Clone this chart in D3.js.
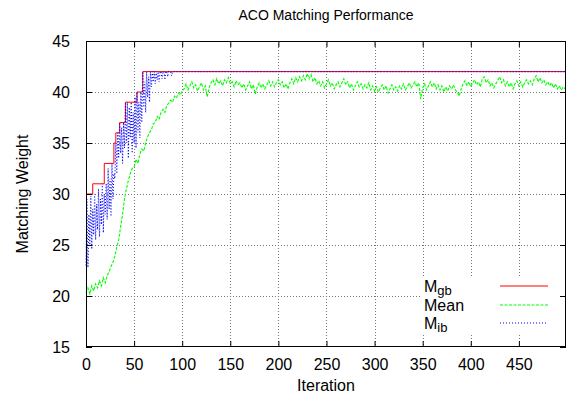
<!DOCTYPE html>
<html>
<head>
<meta charset="utf-8">
<script src="https://cdn.jsdelivr.net/npm/d3@7"></script>
<style>
  body { margin: 0; background: #fff; }
  svg { display: block; font-family: "Liberation Sans", Arial, sans-serif; }
</style>
</head>
<body>
<svg id="vis"></svg>
<script>
// chart values
var xTicks = [0, 50, 100, 150, 200, 250, 300, 350, 400, 450];
var yTicks = [15, 20, 25, 30, 35, 40, 45];

// best-so-far weight: iteration where it changes, and the new value
var gbIter  = [0, 7, 19, 29, 31, 35, 41, 53, 59, 499];
var gbValue = [30, 31, 33, 35, 36, 37, 39, 40, 42, 42];

// mean weight of the colony, sampled every 2 iterations (0, 2, ... 498)
var meanStep = 2;
var meanValue = [
  20.3, 20.8, 20.2, 21.0, 20.5, 21.2, 20.8, 21.5, 21.0, 21.8,
  21.3, 22.0, 22.4, 22.9, 23.3, 23.9, 24.8, 25.5, 26.8, 28.0,
  29.5, 30.5, 31.3, 32.0, 32.5, 32.6, 33.4, 33.0, 33.9, 34.4,
  34.2, 35.0, 35.6, 36.0, 36.3, 36.9, 37.0, 37.6, 37.3, 38.0,
  38.3, 38.0, 38.7, 38.9, 39.2, 39.0, 39.6, 39.4, 39.9, 39.7,
  40.1,
  40.3, 40.8, 40.2, 40.6, 41.0, 40.4, 40.7, 40.1, 40.5, 40.9,
  40.2, 40.6, 39.5, 40.4, 40.9, 41.2, 40.7, 41.3, 40.8, 41.1,
  40.6, 41.2, 40.9, 41.4, 40.8, 41.0, 40.5, 41.1, 40.7, 40.9,
  40.4, 40.8, 40.2, 40.6, 41.0, 40.3, 40.7, 39.8, 40.5, 40.9,
  40.4, 40.8, 40.3, 40.7, 41.1, 40.6, 41.0, 40.5, 40.9, 41.2,
  40.7, 41.0, 40.4, 40.8, 40.3, 40.9, 41.3, 40.8, 41.4, 41.0,
  41.5, 41.1, 41.6, 41.2, 41.8, 41.3, 41.7, 41.0, 41.4, 40.8,
  41.1, 40.6, 41.0, 40.4, 40.8, 41.2, 40.6, 40.9, 40.3, 40.7,
  41.0, 40.5, 40.9, 41.3, 40.7, 41.0, 40.4, 40.8, 40.2, 40.6,
  41.0, 40.5, 40.8, 40.3, 40.7, 40.4, 40.9, 40.2, 40.6, 40.1,
  40.5, 40.0, 40.4, 40.7, 40.2, 40.6, 39.9, 40.3, 40.7, 40.2,
  40.5, 40.1, 40.6, 40.3, 40.8, 40.2, 40.5, 40.9, 40.4, 40.7,
  41.0, 40.5, 40.9, 39.3, 40.4, 40.8, 40.2, 40.6, 41.0, 40.5,
  40.9, 40.3, 40.7, 40.2, 40.6, 40.0, 40.5, 40.1, 40.6, 40.3,
  40.7, 40.2, 40.0, 39.6, 40.3, 40.8, 41.1, 40.6, 41.0, 40.5,
  40.9, 41.2, 40.7, 41.0, 40.5, 41.3, 41.5, 40.9, 41.2, 40.6,
  40.9, 40.4, 40.8, 41.1, 41.5, 40.9, 41.2, 40.6, 41.0, 40.5,
  40.9, 40.3, 40.8, 41.1, 40.6, 41.0, 40.5, 40.9, 41.2, 40.8,
  41.1, 40.7, 41.3, 41.6, 41.0, 41.4, 40.9, 41.2, 40.7, 41.0,
  40.6, 40.9, 40.4, 40.8, 40.3, 40.6, 40.2, 40.5, 40.3
];

// iteration-best weight, one value per iteration 0..90, then flat at 42
var ibValue = [
  23.0, 29.5, 22.8, 28.0, 25.0, 29.8, 24.6, 28.5, 26.0, 30.0,
  25.5, 29.0, 26.5, 30.5, 25.8, 29.5, 27.0, 31.0, 26.2, 30.0,
  28.0, 31.0, 27.5, 32.5, 28.5, 31.5, 27.8, 33.0, 29.5, 32.0,
  31.5, 35.0, 32.0, 36.0, 33.5, 37.0, 34.0, 36.5, 33.0, 37.0,
  34.5, 39.0, 35.0, 39.0, 33.5, 38.5, 35.5, 39.0, 34.0, 38.0,
  35.0, 39.5, 34.5, 40.0, 36.0, 39.0, 35.5, 40.0, 37.0, 42.0,
  38.5, 41.0, 38.0, 42.0, 39.5, 41.5, 39.0, 42.0, 40.5, 42.0,
  41.0, 42.0, 40.8, 42.0, 41.2, 42.0, 41.0, 42.0, 42.0, 41.3,
  42.0, 42.0, 41.2, 42.0, 42.0, 41.5, 42.0, 42.0, 42.0, 41.6,
  42.0
];
var ibLastIter = 499;

var W = 568, H = 402;
var plotL = 86, plotR = 566, plotT = 41, plotB = 347;

var svg = d3.select("#vis").attr("width", W).attr("height", H);

var x = d3.scaleLinear().domain([0, 499]).range([plotL, plotR]);
var y = d3.scaleLinear().domain([15, 45]).range([plotB, plotT]);

// grid
var grid = svg.append("g").attr("stroke", "#777").attr("stroke-width", 1)
  .attr("stroke-dasharray", "1,2");
grid.selectAll("line.gx").data(xTicks.slice(1)).enter().append("line")
  .attr("x1", function(d){ return Math.round(x(d)) + 0.5; })
  .attr("x2", function(d){ return Math.round(x(d)) + 0.5; })
  .attr("y1", plotT).attr("y2", plotB);
grid.selectAll("line.gy").data(yTicks.slice(1, -1)).enter().append("line")
  .attr("y1", function(d){ return Math.round(y(d)) + 0.5; })
  .attr("y2", function(d){ return Math.round(y(d)) + 0.5; })
  .attr("x1", plotL).attr("x2", plotR);

// legend box hides grid behind the key
svg.append("rect").attr("x", 422).attr("y", 276).attr("width", plotR - 422).attr("height", 57)
  .attr("fill", "#fff");

// series
var gbPts = gbIter.map(function(d, i){ return [d, gbValue[i]]; });
var meanPts = meanValue.map(function(d, i){ return [i * meanStep, d]; });
var ibPts = ibValue.map(function(d, i){ return [i, d]; });
ibPts.push([ibLastIter, ibValue[ibValue.length - 1]]);

var lineStep = d3.line().x(function(d){ return x(d[0]); }).y(function(d){ return y(d[1]); })
  .curve(d3.curveStepAfter);
var line = d3.line().x(function(d){ return x(d[0]); }).y(function(d){ return y(d[1]); });

svg.append("path").datum(meanPts).attr("d", line)
  .attr("fill", "none").attr("stroke", "#00ff00").attr("stroke-width", 1.1)
  .attr("stroke-dasharray", "3,1.5");
svg.append("path").datum(gbPts).attr("d", lineStep)
  .attr("fill", "none").attr("stroke", "#ff0000").attr("stroke-width", 1);
svg.append("path").datum(ibPts).attr("d", line)
  .attr("fill", "none").attr("stroke", "#0000ff").attr("stroke-width", 1.1)
  .attr("stroke-dasharray", "1,2");

// frame
svg.append("rect").attr("x", plotL + 0.5).attr("y", plotT + 0.5)
  .attr("width", plotR - plotL - 1).attr("height", plotB - plotT - 1)
  .attr("fill", "none").attr("stroke", "#000").attr("stroke-width", 1);

// axes with inward ticks on all four sides
var tickLen = 6;
var xAxisB = d3.axisBottom(x).tickValues(xTicks).tickSize(-tickLen).tickPadding(tickLen + 6);
var xAxisT = d3.axisTop(x).tickValues(xTicks).tickSize(-tickLen).tickFormat("");
var yAxisL = d3.axisLeft(y).tickValues(yTicks).tickSize(-tickLen).tickPadding(tickLen + 10);
var yAxisR = d3.axisRight(y).tickValues(yTicks).tickSize(-tickLen).tickFormat("");

function styleAxis(g) {
  g.select(".domain").remove();
  g.selectAll("line").attr("stroke", "#000");
  g.selectAll("text").attr("fill", "#000").style("font-size", "16px")
    .style("font-family", "'Liberation Sans', Arial, sans-serif");
}
svg.append("g").attr("transform", "translate(0," + plotB + ")").call(xAxisB).call(styleAxis);
svg.append("g").attr("transform", "translate(0," + plotT + ")").call(xAxisT).call(styleAxis);
svg.append("g").attr("transform", "translate(" + plotL + ",0)").call(yAxisL).call(styleAxis);
svg.append("g").attr("transform", "translate(" + plotR + ",0)").call(yAxisR).call(styleAxis);

// titles
svg.append("text").attr("x", (plotL + plotR) / 2).attr("y", 20).attr("text-anchor", "middle")
  .style("font-size", "14px").text("ACO Matching Performance");
svg.append("text").attr("x", (plotL + plotR) / 2).attr("y", 391).attr("text-anchor", "middle")
  .style("font-size", "16px").text("Iteration");
svg.append("text").attr("transform", "translate(28," + ((plotT + plotB) / 2) + ") rotate(-90)")
  .attr("text-anchor", "middle").style("font-size", "16px").text("Matching Weight");

// legend
var keys = [
  { name: "M", sub: "gb", color: "#ff0000", dash: null },
  { name: "Mean", sub: null, color: "#00ff00", dash: "3,1.5" },
  { name: "M", sub: "ib", color: "#0000ff", dash: "1,2" }
];
var key = svg.append("g").selectAll("g").data(keys).enter().append("g")
  .attr("transform", function(d, i){ return "translate(0," + Math.round(286 + i * 18.5) + ")"; });
key.append("text").attr("x", 424).attr("y", 6).style("font-size", "16px")
  .each(function(d){
    var t = d3.select(this);
    t.append("tspan").text(d.name);
    if (d.sub) t.append("tspan").attr("dy", 3).style("font-size", "13px").text(d.sub);
  });
key.append("line").attr("x1", 500).attr("x2", 548).attr("y1", 0).attr("y2", 0)
  .attr("stroke-width", 1.2)
  .attr("stroke", function(d){ return d.color; })
  .attr("stroke-dasharray", function(d){ return d.dash; });
</script>
</body>
</html>
